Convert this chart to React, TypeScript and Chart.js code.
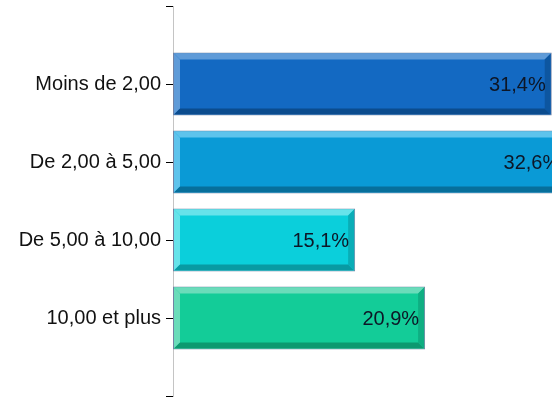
import React, { useEffect, useRef } from 'react';
import { Chart, registerables } from 'chart.js';

Chart.register(...registerables);

const categories = ['Moins de 2,00', 'De 2,00 à 5,00', 'De 5,00 à 10,00', '10,00 et plus'];
const shares = [31.4, 32.6, 15.1, 20.9];

const barColors = ['#1369c2', '#0a9ad6', '#0bcfdb', '#13cc98'];
const lightColors = ['#5f9bd8', '#5ec3ec', '#66e3ea', '#6adcba'];
const darkColors = ['#0b4c8e', '#076f9b', '#089aa3', '#0d9970'];
const rightColors = ['#0d56a0', '#0880b3', '#09adb7', '#0fae82'];

const FONT = '"Liberation Sans", Arial, sans-serif';

const fmt = (v: number) => v.toFixed(1).replace('.', ',') + '%';

export default function App() {
  const ref = useRef<HTMLCanvasElement>(null);

  useEffect(() => {
    document.body.style.margin = '0';
    const labels = ['', ...categories, ''];
    const data = [null, ...shares, null];

    const bevel = {
      id: 'bevel',
      afterDatasetsDraw(chart: any) {
        const meta = chart.getDatasetMeta(0);
        const ctx = chart.ctx as CanvasRenderingContext2D;
        ctx.save();
        const poly = (c: string, pts: number[][]) => {
          ctx.beginPath();
          ctx.moveTo(pts[0][0], pts[0][1]);
          for (let i = 1; i < pts.length; i++) ctx.lineTo(pts[i][0], pts[i][1]);
          ctx.closePath();
          ctx.fillStyle = c;
          ctx.fill();
        };
        meta.data.forEach((el: any, i: number) => {
          const k = i - 1;
          if (k < 0 || k >= shares.length) return;
          const { x, y, base, height } = el.getProps(['x', 'y', 'base', 'height'], true);
          const l = Math.min(base, x) + 1;
          const r = Math.max(base, x) - 1;
          const t = y - height / 2 + 1;
          const b = y + height / 2 - 1;
          const w = 6;
          poly(lightColors[k], [[l, t], [r, t], [r - w, t + w], [l + w, t + w]]);
          poly(lightColors[k], [[l, t], [l + w, t + w], [l + w, b - w], [l, b]]);
          poly(darkColors[k], [[l, b], [l + w, b - w], [r - w, b - w], [r, b]]);
          poly(rightColors[k], [[r, t], [r, b], [r - w, b - w], [r - w, t + w]]);
          ctx.fillStyle = '#0d1626';
          ctx.font = '20px ' + FONT;
          ctx.textAlign = 'right';
          ctx.textBaseline = 'middle';
          ctx.fillText(fmt(shares[k]), r - 5, y + 1);
        });
        ctx.restore();
      },
    };

    const chart = new Chart(ref.current as HTMLCanvasElement, {
      type: 'bar',
      data: {
        labels,
        datasets: [
          {
            data,
            backgroundColor: ['transparent', ...barColors, 'transparent'],
            borderColor: '#7282a4',
            borderWidth: 1,
            borderSkipped: false,
            barPercentage: 0.9,
            categoryPercentage: 0.9,
          } as any,
        ],
      },
      options: {
        indexAxis: 'y',
        animation: false,
        responsive: true,
        maintainAspectRatio: false,
        layout: { padding: { top: 6, bottom: 2, left: 0, right: 0 } },
        plugins: { legend: { display: false }, tooltip: { enabled: false } },
        scales: {
          x: { display: false, min: 0, max: 35.4 },
          y: {
            type: 'category',
            offset: false,
            grid: { offset: false, drawOnChartArea: false, tickLength: 7, tickColor: '#000000', tickWidth: 1 },
            border: { color: '#c4c4c4', width: 1 },
            ticks: { autoSkip: false, padding: 5, color: '#111111', font: { family: FONT, size: 20 } },
            afterFit(scale: any) {
              scale.width = 173;
              scale.paddingTop = 0;
              scale.paddingBottom = 0;
            },
          } as any,
        },
      },
      plugins: [bevel],
    });
    return () => chart.destroy();
  }, []);

  return (
    <div style={{ position: 'fixed', left: 0, top: 0, width: 552, height: 398, overflow: 'hidden', background: '#fff' }}>
      <div style={{ position: 'relative', width: 600, height: 398 }}>
        <canvas ref={ref} />
      </div>
    </div>
  );
}
